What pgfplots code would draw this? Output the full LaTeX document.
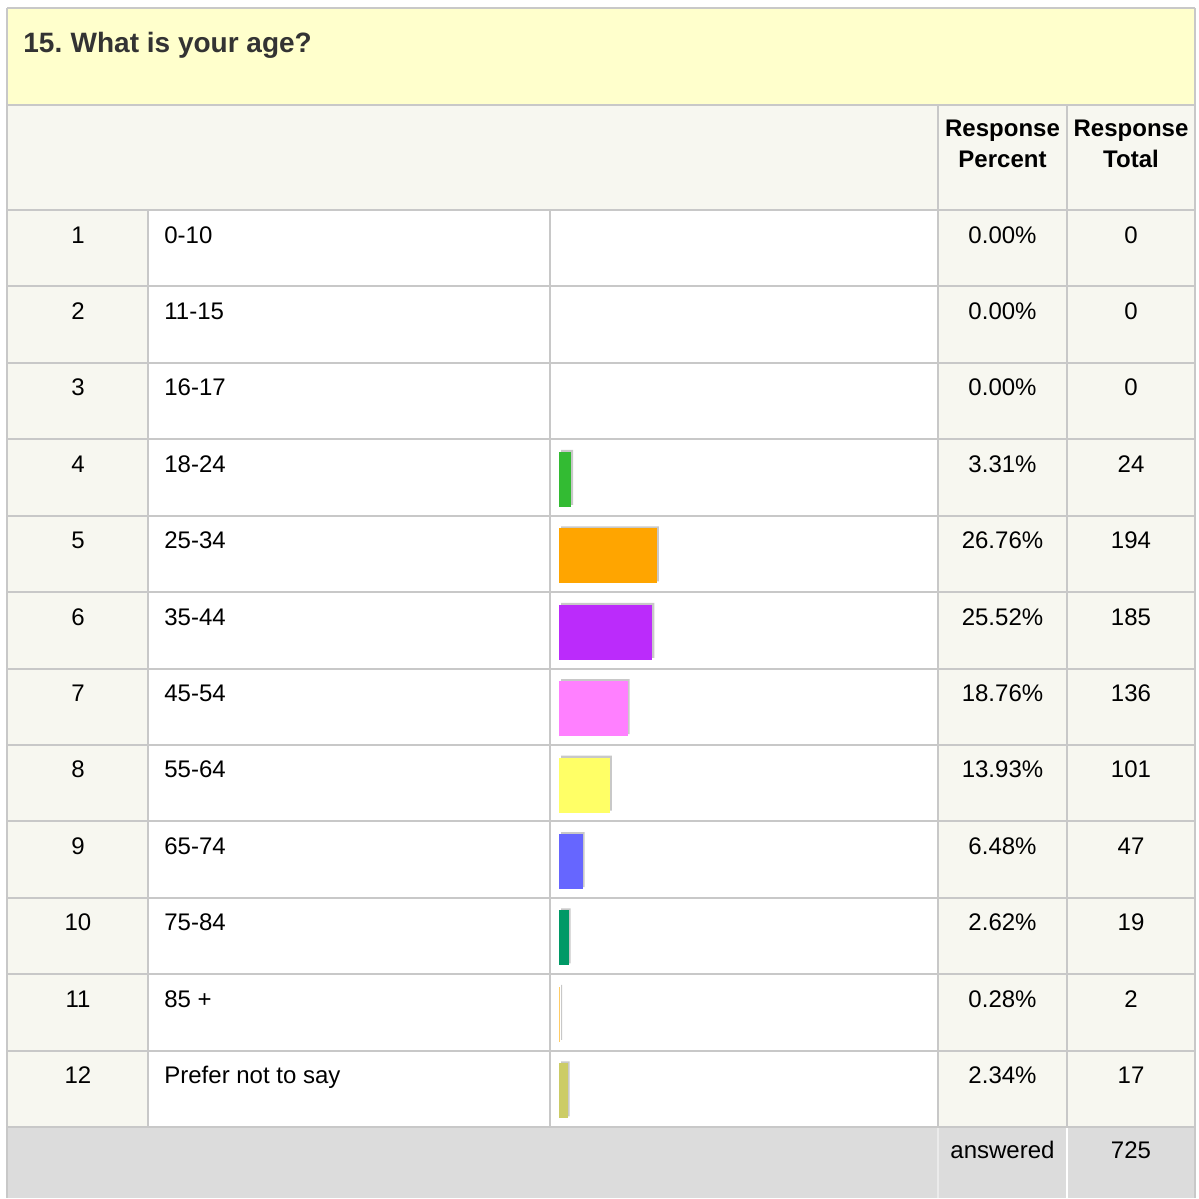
\documentclass[border=0pt]{standalone}
\usepackage{pgfplots}
\pgfplotsset{compat=1.18}
\usepackage{fontspec}
\setmainfont{Liberation Sans}
\definecolor{titlebg}{HTML}{FFFFCC}
\definecolor{beige}{HTML}{F7F7F0}
\definecolor{gridc}{HTML}{C8C8C8}
\definecolor{footbg}{HTML}{DCDCDC}
\definecolor{titletext}{HTML}{333333}
\definecolor{cA}{HTML}{33BB33}
\definecolor{cB}{HTML}{FFA500}
\definecolor{cC}{HTML}{BB2BFB}
\definecolor{cD}{HTML}{FF80FF}
\definecolor{cE}{HTML}{FFFF66}
\definecolor{cF}{HTML}{6666FF}
\definecolor{cG}{HTML}{009966}
\definecolor{cH}{HTML}{FFCC66}
\definecolor{cI}{HTML}{CCCC66}
\newcommand\trow[5]{%
 \node[txt,anchor=base] at (axis cs:78,#1) {#2};
 \node[txt,anchor=base west] at (axis cs:164,#1) {#3};
 \node[txt,anchor=base] at (axis cs:1002.5,#1) {#4};
 \node[txt,anchor=base] at (axis cs:1131,#1) {#5};}
\newcommand\rline[1]{\draw[draw=gridc,line width=1pt] (axis cs:7,#1) -- (axis cs:1195,#1);}
\begin{document}
\begin{tikzpicture}[txt/.style={inner sep=0pt,font=\fontsize{12}{14}\selectfont,text=black}]
\begin{axis}[at={(0,0)},anchor=south west,scale only axis,width=599.5pt,height=599pt,
  xmin=0,xmax=1199,ymin=0,ymax=1198,y dir=reverse,hide axis,clip=false]
\path (axis cs:0,0) rectangle (axis cs:1199,1198);
% backgrounds
\fill[titlebg] (axis cs:7,8) rectangle (axis cs:1195,105);
\fill[beige] (axis cs:7,105) rectangle (axis cs:1195,210);
\fill[beige] (axis cs:7,210) rectangle (axis cs:148,1127);
\fill[white] (axis cs:148,210) rectangle (axis cs:938,1127);
\fill[beige] (axis cs:938,210) rectangle (axis cs:1195,1127);
\fill[footbg] (axis cs:7,1127) rectangle (axis cs:1195,1198);
% grid lines
\draw[draw=gridc,line width=1pt] (axis cs:7,8) -- (axis cs:1195,8);
\draw[draw=gridc,line width=1pt] (axis cs:7,8) -- (axis cs:7,1198);
\draw[draw=gridc,line width=1pt] (axis cs:1195,8) -- (axis cs:1195,1198);
\rline{105}
\rline{210}\rline{286.42}\rline{362.83}\rline{439.25}\rline{515.67}\rline{592.08}
\rline{668.5}\rline{744.92}\rline{821.33}\rline{897.75}\rline{974.17}\rline{1050.58}\rline{1127}
\draw[draw=gridc,line width=1pt] (axis cs:148,210) -- (axis cs:148,1127);
\draw[draw=gridc,line width=1pt] (axis cs:550,210) -- (axis cs:550,1127);
\draw[draw=gridc,line width=1pt] (axis cs:938,105) -- (axis cs:938,1127);
\draw[draw=gridc,line width=1pt] (axis cs:1067,105) -- (axis cs:1067,1127);
\draw[black!8,line width=0.6pt] (axis cs:938,1128) -- (axis cs:938,1198);
\draw[white,line width=0.6pt] (axis cs:1067,1128) -- (axis cs:1067,1198);
% title and headers
\node[inner sep=0pt,anchor=base west,font=\bfseries\fontsize{14}{16}\selectfont,text=titletext] at (axis cs:23,52) {15.\kern-1pt{} What is your age?};
\node[txt,anchor=base,font=\bfseries\fontsize{12}{14}\selectfont] at (axis cs:1002.5,136) {Response};
\node[txt,anchor=base,font=\bfseries\fontsize{12}{14}\selectfont] at (axis cs:1002.5,167) {Percent};
\node[txt,anchor=base,font=\bfseries\fontsize{12}{14}\selectfont] at (axis cs:1131,136) {Response};
\node[txt,anchor=base,font=\bfseries\fontsize{12}{14}\selectfont] at (axis cs:1131,167) {Total};
% rows
\trow{243}{1}{0-10}{0.00\%}{0}
\trow{319.4}{2}{11-15}{0.00\%}{0}
\trow{395.8}{3}{16-17}{0.00\%}{0}
\trow{472.3}{4}{18-24}{3.31\%}{24}
\trow{548.7}{5}{25-34}{26.76\%}{194}
\trow{625.1}{6}{35-44}{25.52\%}{185}
\trow{701.5}{7}{45-54}{18.76\%}{136}
\trow{777.9}{8}{55-64}{13.93\%}{101}
\trow{854.4}{9}{65-74}{6.48\%}{47}
\trow{930.8}{10}{75-84}{2.62\%}{19}
\trow{1007.2}{11}{85 +}{0.28\%}{2}
\trow{1083.6}{12}{Prefer not to say}{2.34\%}{17}
\node[txt,anchor=base] at (axis cs:1002.5,1158) {answered};
\node[txt,anchor=base] at (axis cs:1131,1158) {725};
\end{axis}
\begin{axis}[at={(275pt,34.5pt)},anchor=south west,scale only axis,width=194pt,height=458.5pt,
  xmin=-2.459,xmax=103.55,ymin=0.5,ymax=12.5,y dir=reverse,hide axis,clip=false,
  mybar/.style={xbar,bar width=0.72,bar shift=0pt,draw=none}]
\addplot[mybar,fill=gridc,xshift=1pt,yshift=1pt] coordinates {(3.31,4) (26.76,5) (25.52,6) (18.76,7) (13.93,8) (6.48,9) (2.62,10) (0.28,11) (2.34,12)};
\addplot[mybar,fill=cA] coordinates {(3.31,4)};
\addplot[mybar,fill=cB] coordinates {(26.76,5)};
\addplot[mybar,fill=cC] coordinates {(25.52,6)};
\addplot[mybar,fill=cD] coordinates {(18.76,7)};
\addplot[mybar,fill=cE] coordinates {(13.93,8)};
\addplot[mybar,fill=cF] coordinates {(6.48,9)};
\addplot[mybar,fill=cG] coordinates {(2.62,10)};
\addplot[mybar,fill=cH] coordinates {(0.28,11)};
\addplot[mybar,fill=cI] coordinates {(2.34,12)};
\end{axis}
\end{tikzpicture}
\end{document}
